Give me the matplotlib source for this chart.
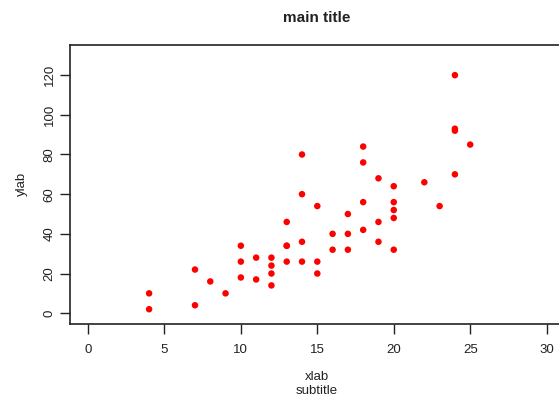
import matplotlib
matplotlib.use("Agg")
import matplotlib.pyplot as plt

speed = [4, 4, 7, 7, 8, 9, 10, 10, 10, 11, 11, 12, 12, 12, 12, 13, 13, 13, 13,
         14, 14, 14, 14, 15, 15, 15, 16, 16, 17, 17, 17, 18, 18, 18, 18, 19, 19,
         19, 20, 20, 20, 20, 20, 22, 23, 24, 24, 24, 24, 25]
dist = [2, 10, 4, 22, 16, 10, 18, 26, 34, 17, 28, 14, 20, 24, 28, 26, 34, 34, 46,
        26, 36, 60, 80, 20, 26, 54, 32, 40, 32, 40, 50, 42, 56, 76, 84, 36, 46,
        68, 32, 48, 52, 56, 64, 66, 54, 70, 92, 93, 120, 85]
xticks = [0, 5, 10, 15, 20, 25, 30]
yticks = [0, 20, 40, 60, 80, 100, 120]

plt.rcParams['font.family'] = ['Liberation Sans', 'DejaVu Sans']
W, H = 559, 398
fig = plt.figure(figsize=(W / 100, H / 100), dpi=100)
left, right, top, bottom = 69.6, 565, 45, 323.5
ax = fig.add_axes([left / W, (H - bottom) / H, (right - left) / W, (bottom - top) / H])
ax.scatter(speed, dist, s=22, c='#ff0000', edgecolors='none', zorder=3)
ax.set_xlim(-1.2, 31.2)
ax.set_ylim(-5.2, 135.2)
ax.set_xticks(xticks)
ax.set_yticks(yticks)
ax.set_yticklabels([str(v) for v in yticks], rotation=90, va='center')
ax.tick_params(direction='out', length=7, width=1, colors='#222222', labelsize=9.5,
               labelcolor='#222222')
ax.tick_params(axis='x', pad=8)
ax.tick_params(axis='y', pad=3)
for s in ax.spines.values():
    s.set_color('#222222')
    s.set_linewidth(1.2)

cx = 317
fig.text(cx / W, 1 - 18.5 / H, 'main title', ha='center', va='center',
         fontsize=11, fontweight='bold', color='#222222')
fig.text(cx / W, 1 - 377 / H, 'xlab', ha='center', va='center', fontsize=9.5, color='#222222')
fig.text(cx / W, 1 - 390.5 / H, 'subtitle', ha='center', va='center', fontsize=9.5, color='#222222')
fig.text(22 / W, 1 - 184 / H, 'ylab', ha='center', va='center', rotation=90,
         fontsize=9.5, color='#222222')

fig.savefig('out.png', dpi=100)
